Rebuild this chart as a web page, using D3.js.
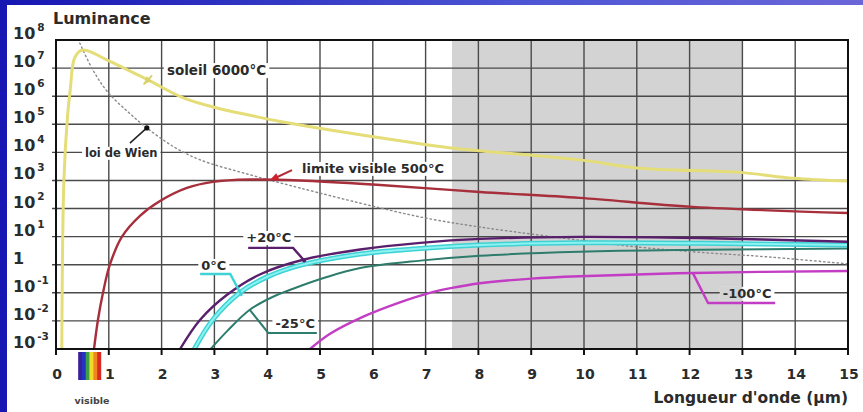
<!DOCTYPE html>
<html lang="fr">
  <head>
    <meta charset="utf-8">
    <title>Luminance</title>
    <script src="https://d3js.org/d3.v7.min.js"></script>
    <style>
      body {
        margin: 0;
        width: 863px;
        height: 412px;
        overflow: hidden;
        background: linear-gradient(90deg, #1616b2, #4c55d4 60%, #6a66d8);
      }
      #chart text {
        font-family: "DejaVu Sans", sans-serif;
        font-weight: bold;
        fill: #2b2b2b;
      }
    </style>
  </head>
  <body>
    <div id="chart"></div>

    <script type="text/javascript">
      "use strict"

      // graduations
      const xTicks = d3.range(0, 16)
      const yExposants = d3.range(-3, 9)
      const bandeGrise = [7.5, 13]
      const spectreBornes = [0.42, 0.85]
      const spectreCouleurs = ["#3a1f9a", "#2334c2", "#3f9e45", "#ecdd2a", "#f0861f", "#d82a20"]

      // courbes (longueur d'onde en µm, luminance)
      const soleilX = [0.11, 0.15, 0.22, 0.27, 0.36, 0.51, 0.98, 1.74, 2.41, 3.05, 3.67, 4.30, 7.08, 7.52, 9.92, 11.0, 13.0, 13.96, 15]
      const soleilY = [1e-3, 1.05e3, 2.1e5, 1.7e6, 2.5e7, 4.4e7, 1.9e7, 3.8e6, 8.7e5, 3.8e5, 2.1e5, 1.2e5, 1.8e4, 1.4e4, 5.4e3, 2.8e3, 1.9e3, 1.2e3, 9.5e2]

      const wienX = [0.45, 0.70, 0.98, 1.36, 1.72, 2.25, 2.73, 3.67, 4.62, 6.14, 7.08, 8.03, 9.30, 11.0, 12.39, 13.33, 15]
      const wienY = [7.8e7, 8.5e6, 1.4e6, 2.8e5, 7.4e4, 1.5e4, 5.4e3, 1.6e3, 5.4e2, 105, 43, 22, 10.5, 4.3, 2.6, 2.0, 1.07]

      const rougeX = [0.72, 0.795, 0.89, 1.02, 1.25, 1.59, 1.97, 2.48, 2.97, 3.67, 4.62, 6.14, 8.03, 9.92, 12.06, 15]
      const rougeY = [1e-3, 1.1e-2, 0.1, 1, 10, 55, 185, 540, 890, 1080, 1000, 690, 390, 240, 115, 69]

      const plus20X = [2.35, 2.73, 3.24, 3.86, 4.68, 5.76, 6.9, 8.03, 9.92, 12.2, 15]
      const plus20Y = [1e-3, 1.1e-2, 8.5e-2, 0.45, 1.5, 3.5, 6.0, 8.3, 9.8, 8.9, 6.6]

      const zeroX = [2.62, 2.97, 3.48, 4.0, 4.62, 5.76, 6.9, 8.03, 9.92, 12.2, 15]
      const zeroY = [1e-3, 1.1e-2, 0.1, 0.37, 0.95, 2.4, 3.8, 5.0, 6.0, 5.8, 5.0]

      const moins25X = [2.93, 3.25, 3.67, 4.1, 4.49, 5.1, 5.76, 6.9, 8.03, 9.92, 12.2, 15]
      const moins25Y = [1e-3, 4.5e-3, 2.5e-2, 7.1e-2, 0.14, 0.35, 0.76, 1.4, 2.1, 2.9, 3.4, 3.8]

      const moins100X = [4.81, 5.19, 5.81, 6.5, 7.08, 7.5, 8.03, 9.0, 9.92, 12.06, 15]
      const moins100Y = [1e-3, 3.5e-3, 1.4e-2, 4.5e-2, 0.1, 0.15, 0.22, 0.32, 0.39, 0.51, 0.60]

      function dessine() {
        var largeur = 863, hauteur = 412
        var x = d3.scaleLinear().domain([0, 15]).range([56, 848])
        var y = d3.scaleLog().domain([1e-3, 1e8]).range([349, 40])

        var svg = d3.select("#chart").append("svg")
          .attr("width", largeur)
          .attr("height", hauteur)
          .style("display", "block")

        var defs = svg.append("defs")
        defs.append("clipPath").attr("id", "zone")
          .append("rect")
          .attr("x", x(0)).attr("y", y(1e8))
          .attr("width", x(15) - x(0)).attr("height", y(1e-3) - y(1e8))

        // fond blanc
        svg.append("rect")
          .attr("x", 7).attr("y", 5)
          .attr("width", largeur - 7).attr("height", hauteur - 5)
          .attr("fill", "#ffffff")

        // bande grise (infrarouge)
        svg.append("rect")
          .attr("x", x(bandeGrise[0])).attr("y", y(1e8))
          .attr("width", x(bandeGrise[1]) - x(bandeGrise[0]))
          .attr("height", y(1e-3) - y(1e8))
          .attr("fill", "#d3d3d3")

        // grille
        svg.append("g").selectAll("line")
          .data(xTicks.filter(d => d > 0 && d < 15))
          .enter().append("line")
            .attr("x1", d => x(d)).attr("x2", d => x(d))
            .attr("y1", y(1e8)).attr("y2", y(1e-3))
            .attr("stroke", "#4a4a4a").attr("stroke-width", 1.4)

        svg.append("g").selectAll("line")
          .data(yExposants.filter(e => e > -3 && e < 8))
          .enter().append("line")
            .attr("x1", x(0) - 4).attr("x2", x(15))
            .attr("y1", e => y(10 ** e)).attr("y2", e => y(10 ** e))
            .attr("stroke", "#4a4a4a").attr("stroke-width", 1.4)

        // annotations : textes avec fond qui coupe la grille
        const annotations = [
          { texte: "soleil 6000°C", x: 2.10, y: 10 ** 6.75, taille: 13.5, ancre: "start" },
          { texte: "loi de Wien", x: 0.55, y: 10 ** 3.84, taille: 11.5, ancre: "start" },
          { texte: "limite visible 500°C", x: 4.66, y: 10 ** 3.27, taille: 13, ancre: "start" },
          { texte: "+20°C", x: 4.03, y: 10 ** 0.81, taille: 13, ancre: "middle" },
          { texte: "0°C", x: 2.99, y: 10 ** -0.19, taille: 13, ancre: "middle" },
          { texte: "-25°C", x: 4.53, y: 10 ** -2.25, taille: 13, ancre: "middle" },
          { texte: "-100°C", x: 13.09, y: 10 ** -1.18, taille: 13, ancre: "middle" }
        ]

        var fonds = svg.append("g")
        var textes = svg.append("g")

        // courbes
        var ligne = d3.line()
          .x(d => x(d[0]))
          .y(d => y(d[1]))
          .curve(d3.curveCatmullRom.alpha(0.5))

        var courbes = svg.append("g").attr("clip-path", "url(#zone)")

        function courbe(xs, ys, couleur, epaisseur, tirets) {
          courbes.append("path")
            .attr("d", ligne(d3.zip(xs, ys)))
            .attr("fill", "none")
            .attr("stroke", couleur)
            .attr("stroke-width", epaisseur)
            .attr("stroke-dasharray", tirets || null)
            .attr("stroke-linecap", tirets ? "round" : "butt")
        }

        courbe(wienX, wienY, "#8a8a8a", 1.4, "1.5,3")
        courbe(soleilX, soleilY, "#e4dd78", 3)
        courbe(rougeX, rougeY, "#a72f3c", 2.4)
        courbe(moins100X, moins100Y, "#c23cc4", 2.4)
        courbe(moins25X, moins25Y, "#2d7c6c", 2)
        courbe(zeroX, zeroY, "#3fd2d4", 5)
        courbe(zeroX, zeroY, "#8ef2f2", 2)
        courbe(plus20X, plus20Y, "#5a1f6c", 2.4)

        // traits de rappel
        var rappels = svg.append("g")
        function rappel(points, couleur, epaisseur) {
          rappels.append("path")
            .attr("d", d3.line().x(d => x(d[0])).y(d => y(10 ** d[1]))(points))
            .attr("fill", "none")
            .attr("stroke", couleur)
            .attr("stroke-width", epaisseur)
        }
        function fleche(pointe, depuis, couleur) {
          var px = x(pointe[0]), py = y(10 ** pointe[1])
          var dx = px - x(depuis[0]), dy = py - y(10 ** depuis[1])
          var a = Math.atan2(dy, dx)
          var l = 8, w = 3.5
          var p1 = [px - l * Math.cos(a) + w * Math.sin(a), py - l * Math.sin(a) - w * Math.cos(a)]
          var p2 = [px - l * Math.cos(a) - w * Math.sin(a), py - l * Math.sin(a) + w * Math.cos(a)]
          rappels.append("path")
            .attr("d", "M" + px + "," + py + "L" + p1 + "L" + p2 + "Z")
            .attr("fill", couleur)
        }

        rappel([[1.82, 6.74], [1.66, 6.42]], "#d9d26a", 2)
        fleche([1.66, 6.42], [1.82, 6.74], "#d9d26a")
        rappel([[1.40, 4.33], [1.72, 4.87]], "#222", 1.5)
        rappels.append("circle").attr("cx", x(1.72)).attr("cy", y(10 ** 4.87)).attr("r", 2.6).attr("fill", "#111")
        rappel([[4.47, 3.37], [4.12, 3.06]], "#b02a38", 2)
        fleche([4.06, 3.03], [4.47, 3.37], "#d0202c")
        rappel([[3.64, 0.60], [4.49, 0.60], [4.70, 0.15]], "#5a1f6c", 2.4)
        rappels.append("circle").attr("cx", x(4.70)).attr("cy", y(10 ** 0.15)).attr("r", 2).attr("fill", "#5a1f6c")
        rappel([[2.73, -0.33], [3.30, -0.33], [3.52, -1.11]], "#3fd2d4", 2.4)
        rappel([[3.67, -1.61], [4.02, -2.43], [4.94, -2.43]], "#2d7c6c", 2)
        rappel([[12.06, -0.29], [12.35, -1.36], [13.62, -1.36]], "#c23cc4", 2.4)

        annotations.forEach(a => {
          var t = textes.append("text")
            .attr("x", x(a.x)).attr("y", y(a.y))
            .attr("text-anchor", a.ancre)
            .style("font-size", a.taille + "px")
            .text(a.texte)
          var b = t.node().getBBox()
          var bx = b.x - 3, by = b.y + 1, bw = b.width + 6, bh = b.height - 1
          fonds.append("rect")
            .attr("x", bx).attr("y", by).attr("width", bw).attr("height", bh)
            .attr("fill", "#ffffff")
          var g0 = Math.max(bx, x(bandeGrise[0])), g1 = Math.min(bx + bw, x(bandeGrise[1]))
          if (g1 > g0) {
            fonds.append("rect")
              .attr("x", g0).attr("y", by).attr("width", g1 - g0).attr("height", bh)
              .attr("fill", "#d3d3d3")
          }
        })

        // cadre
        svg.append("rect")
          .attr("x", x(0)).attr("y", y(1e8))
          .attr("width", x(15) - x(0)).attr("height", y(1e-3) - y(1e8))
          .attr("fill", "none")
          .attr("stroke", "#111")
          .attr("stroke-width", 2)

        // graduations x
        svg.append("g").selectAll("line")
          .data(xTicks)
          .enter().append("line")
            .attr("x1", d => x(d)).attr("x2", d => x(d))
            .attr("y1", y(1e-3)).attr("y2", y(1e-3) + 6)
            .attr("stroke", "#111").attr("stroke-width", 2)

        svg.append("g").selectAll("text")
          .data(xTicks)
          .enter().append("text")
            .attr("x", d => x(d) + 1)
            .attr("y", 379)
            .attr("text-anchor", "middle")
            .style("font-size", "14px")
            .text(d => d)

        // graduations y
        svg.append("g").selectAll("text")
          .data(yExposants)
          .enter().append("text")
            .attr("x", 13)
            .attr("y", e => y(10 ** e) - 1)
            .style("font-size", "16px")
            .each(function (e) {
              var t = d3.select(this)
              if (e === 0) {
                t.text("1")
              } else {
                t.append("tspan").text("10")
                t.append("tspan")
                  .attr("dx", 2).attr("dy", -8)
                  .style("font-size", "10.5px")
                  .text(e)
              }
            })

        // spectre visible
        var largeurBande = (x(spectreBornes[1]) - x(spectreBornes[0])) / spectreCouleurs.length
        svg.append("g").selectAll("rect")
          .data(spectreCouleurs)
          .enter().append("rect")
            .attr("x", (d, i) => x(spectreBornes[0]) + i * largeurBande)
            .attr("y", 352)
            .attr("width", largeurBande + 0.3)
            .attr("height", 28)
            .attr("fill", d => d)

        svg.append("text")
          .attr("x", 92).attr("y", 404)
          .attr("text-anchor", "middle")
          .style("font-size", "9.5px")
          .style("fill", "#444")
          .text("visible")

        // titres
        svg.append("text")
          .attr("x", 53).attr("y", 24)
          .style("font-size", "16px")
          .text("Luminance")

        svg.append("text")
          .attr("x", 848).attr("y", 403)
          .attr("text-anchor", "end")
          .style("font-size", "15.5px")
          .text("Longueur d'onde (µm)")
      }

      dessine()
    </script>
  </body>
</html>
